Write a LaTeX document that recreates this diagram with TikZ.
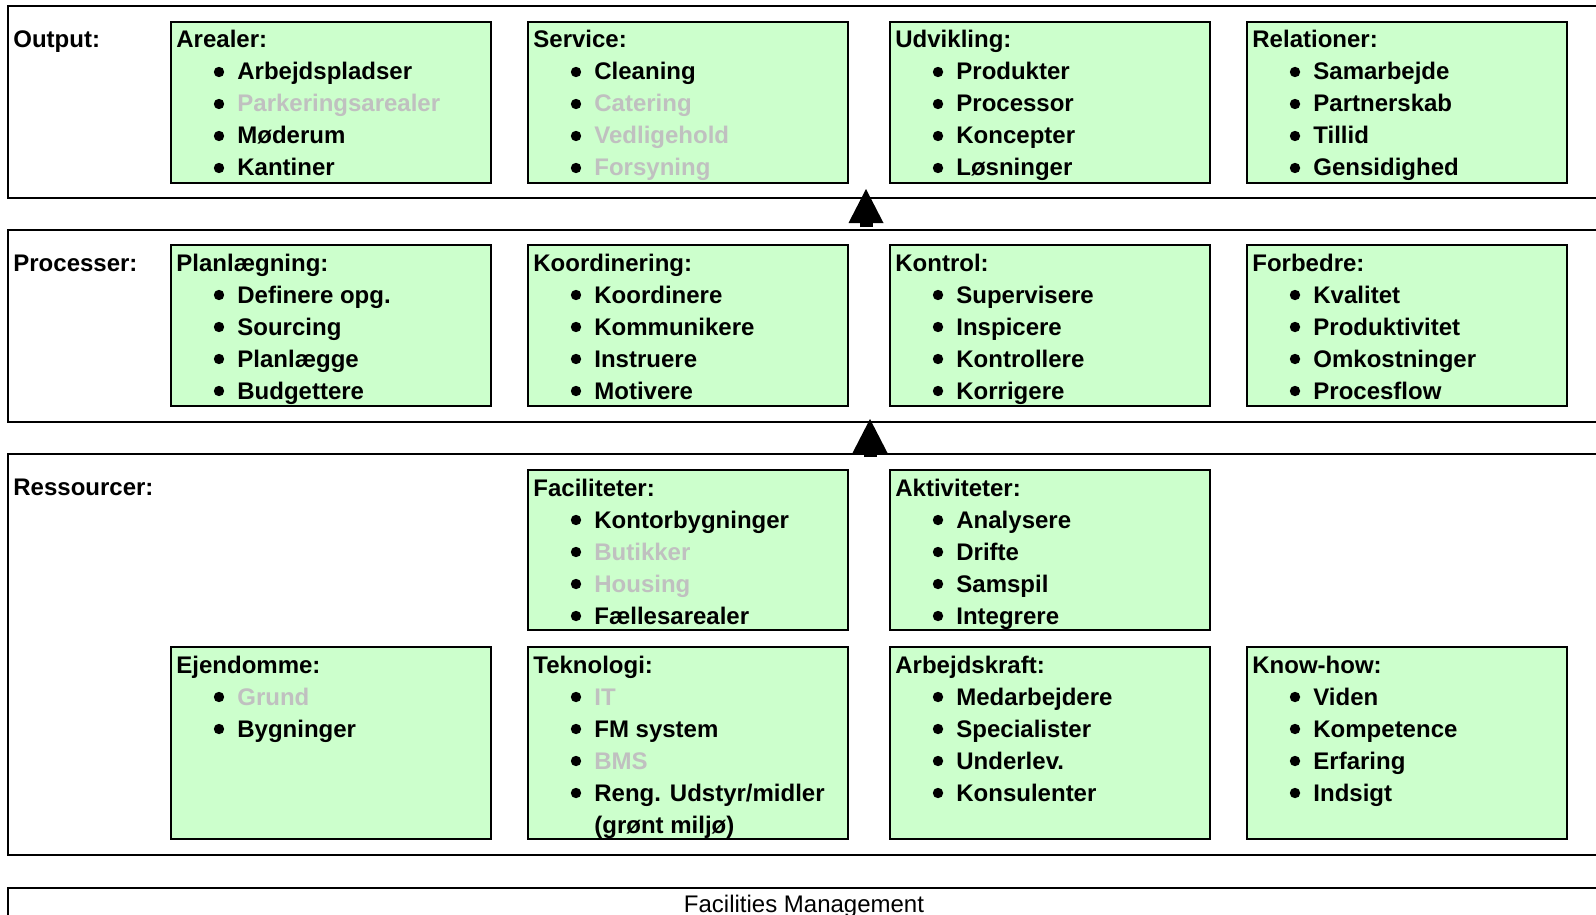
\documentclass[tikz,border=0pt]{standalone}
\usepackage{fontspec}
\setmainfont{Liberation Sans}
\usetikzlibrary{arrows.meta}
\definecolor{gfill}{HTML}{CCFFCC}
\definecolor{gtext}{HTML}{C0C0C0}
\tikzset{
  gbox/.style={draw, line width=1pt, fill=gfill, minimum width=160pt, inner sep=0pt},
  band/.style={draw, line width=1pt, inner sep=0pt, minimum width=800pt, anchor=north west},
  ttl/.style={inner sep=0pt, anchor=base west, font=\bfseries\fontsize{12pt}{14pt}\selectfont},
  plain/.style={inner sep=0pt, anchor=base, font=\fontsize{12pt}{14pt}\selectfont},
  uparr/.style={line width=6.5pt, -{Triangle[length=17pt,width=17.5pt,line width=0pt]}},
}
\newcommand\gbox[6]{%
  \node[gbox, minimum height=#4, anchor=north west] (#1) at (#2,#3) {};
  \node[ttl] (#1-t) at ([shift={(6,27)}]#1.north west) {#5};
  \foreach[count=\i] \c/\t in {#6}{%
    \fill ([shift={(49,{27+32*\i-8})}]#1.north west) circle[radius=2.6pt];
    \node[ttl, text=\c] (#1-\i) at ([shift={(67,{27+32*\i})}]#1.north west) {\t};
  }%
}
\begin{document}
\begin{tikzpicture}[x=0.5pt, y=-0.5pt]
\useasboundingbox (0,0) rectangle (1596,915);
\clip (0,0) rectangle (1596,915);
% bands
\node[band, minimum height=95.75pt] (bout) at (7,5) {};
\node[band, minimum height=96.2pt] (bproc) at (7,229) {};
\node[band, minimum height=200.5pt] (bres) at (7,453) {};
\node[band, minimum height=30pt] (bfm) at (7,887) {};
% band labels
\node[ttl] (lout) at (13,48) {Output:};
\node[ttl] (lproc) at (13,271) {Processer:};
\node[ttl] (lres) at (13,495) {Ressourcer:};
% output row
\gbox{arealer}{170}{21}{80.5pt}{Arealer:}{black/Arbejdspladser, gtext/Parkeringsarealer, black/Møderum, black/Kantiner}
\gbox{service}{527}{21}{80.5pt}{Service:}{black/Cleaning, gtext/Catering, gtext/Vedligehold, gtext/Forsyning}
\gbox{udvikling}{889}{21}{80.5pt}{Udvikling:}{black/Produkter, black/Processor, black/Koncepter, black/Løsninger}
\gbox{relationer}{1246}{21}{80.5pt}{Relationer:}{black/Samarbejde, black/Partnerskab, black/Tillid, black/Gensidighed}
% processer row
\gbox{plan}{170}{244}{80.5pt}{Planlægning:}{black/Definere opg., black/Sourcing, black/Planlægge, black/Budgettere}
\gbox{koord}{527}{244}{80.5pt}{Koordinering:}{black/Koordinere, black/Kommunikere, black/Instruere, black/Motivere}
\gbox{kontrol}{889}{244}{80.5pt}{Kontrol:}{black/Supervisere, black/Inspicere, black/Kontrollere, black/Korrigere}
\gbox{forbedre}{1246}{244}{80.5pt}{Forbedre:}{black/Kvalitet, black/Produktivitet, black/Omkostninger, black/Procesflow}
% ressourcer
\gbox{facil}{527}{469}{80pt}{Faciliteter:}{black/Kontorbygninger, gtext/Butikker, gtext/Housing, black/Fællesarealer}
\gbox{aktiv}{889}{469}{80pt}{Aktiviteter:}{black/Analysere, black/Drifte, black/Samspil, black/Integrere}
\gbox{ejend}{170}{646}{96pt}{Ejendomme:}{gtext/Grund, black/Bygninger}
\gbox{tekno}{527}{646}{96pt}{Teknologi:}{gtext/IT, black/FM system, gtext/BMS, black/{Reng. Udstyr/midler}}
\node[ttl] (tekno-5) at ([shift={(67,187)}]tekno.north west) {(grønt miljø)};
\gbox{arbejd}{889}{646}{96pt}{Arbejdskraft:}{black/Medarbejdere, black/Specialister, black/Underlev., black/Konsulenter}
\gbox{know}{1246}{646}{96pt}{Know-how:}{black/Viden, black/Kompetence, black/Erfaring, black/Indsigt}
% FM
\node[plain] (fm) at (804,912) {Facilities Management};
% arrows
\coordinate (a1s) at (866,227);
\coordinate (a1e) at (866,189);
\coordinate (a2s) at (870,457);
\coordinate (a2e) at (870,419);
\draw[uparr] (a1s) -- (a1e);
\draw[uparr] (a2s) -- (a2e);
\end{tikzpicture}
\end{document}
